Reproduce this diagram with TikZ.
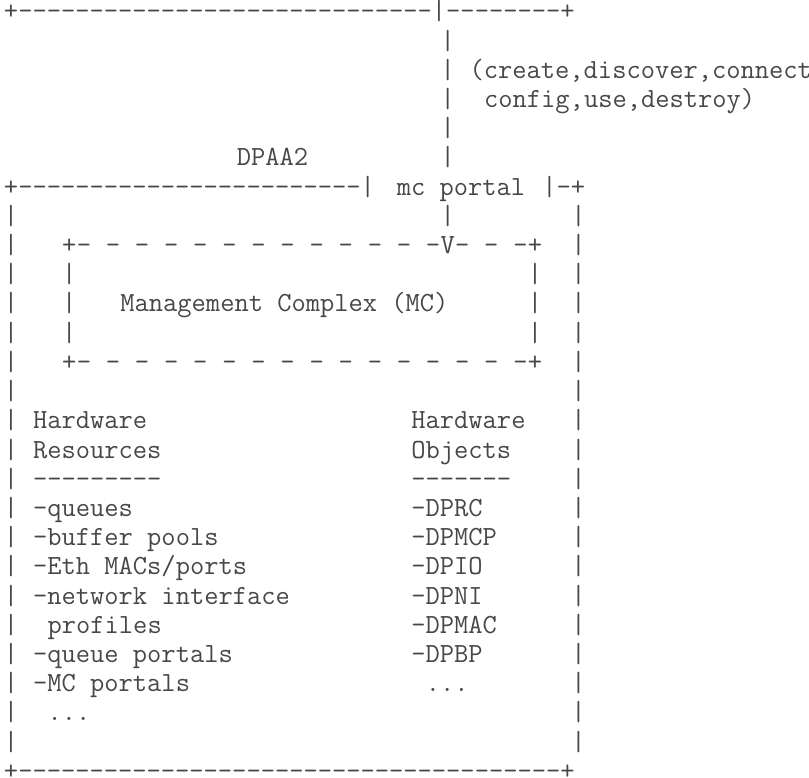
\documentclass[tikz,border=0pt]{standalone}
\usepackage{fontspec}
\setmonofont{Latin Modern Mono}
\newcommand\dashrun[1]{\foreach \i in {1,...,#1}{-}}
\begin{document}
\begin{tikzpicture}[x=1pt,y=1pt,
  ascii/.style={anchor=base west,inner sep=0pt,outer sep=0pt,
    font=\ttfamily\fontsize{27.7}{29.2}\selectfont,text=black!72}]
\newcommand\myput[4]{\node[ascii] (#1) at ({4+(#2)*14.55},{-20-(#3)*29.2}) {#4};}
\useasboundingbox (0,0) rectangle (809,-778);
% bottom edge of the upper (OS) box and the link down to the mc portal
\myput{osbottom}{0}{0}{+\dashrun{29}|\dashrun{8}+}
\foreach \r in {1,...,5} {\myput{link\r}{30}{\r}{|}}
\myput{opsa}{32}{2}{(create,discover,connect}
\myput{opsb}{33}{3}{config,use,destroy)}
\myput{dpaa}{16}{5}{DPAA2}
% DPAA2 box top with mc portal
\myput{dtop}{0}{6}{+\dashrun{24}|}
\myput{mcportal}{27}{6}{mc portal}
\myput{dtopr}{37}{6}{|-+}
\myput{portallink}{30}{7}{|}
% DPAA2 box sides
\foreach \r in {7,...,25} {\myput{lb\r}{0}{\r}{|}\myput{rb\r}{39}{\r}{|}}
% Management Complex dashed box
\myput{mctl}{4}{8}{+}
\myput{mctr}{36}{8}{+}
\myput{mcbl}{4}{12}{+}
\myput{mcbr}{36}{12}{+}
\foreach \c in {5,7,...,35} {\myput{mct\c}{\c}{8}{-}\myput{mcb\c}{\c}{12}{-}}
\myput{arrowhead}{30}{8}{V}
\foreach \r in {9,10,11} {\myput{mcl\r}{4}{\r}{|}\myput{mcr\r}{36}{\r}{|}}
\myput{mc}{8}{10}{Management Complex (MC)}
% Hardware resources
\myput{hra}{2}{14}{Hardware}
\myput{hrb}{2}{15}{Resources}
\myput{hrc}{2}{16}{\dashrun{9}}
\myput{hr1}{2}{17}{-queues}
\myput{hr2}{2}{18}{-buffer pools}
\myput{hr3}{2}{19}{-Eth MACs/ports}
\myput{hr4}{2}{20}{-network interface}
\myput{hr5}{3}{21}{profiles}
\myput{hr6}{2}{22}{-queue portals}
\myput{hr7}{2}{23}{-MC portals}
\myput{hr8}{3}{24}{...}
% Hardware objects
\myput{hoa}{28}{14}{Hardware}
\myput{hob}{28}{15}{Objects}
\myput{hoc}{28}{16}{\dashrun{7}}
\myput{ho1}{28}{17}{-DPRC}
\myput{ho2}{28}{18}{-DPMCP}
\myput{ho3}{28}{19}{-DPIO}
\myput{ho4}{28}{20}{-DPNI}
\myput{ho5}{28}{21}{-DPMAC}
\myput{ho6}{28}{22}{-DPBP}
\myput{ho7}{29}{23}{...}
% bottom edge
\myput{dbottom}{0}{26}{+\dashrun{38}+}
\end{tikzpicture}
\end{document}
